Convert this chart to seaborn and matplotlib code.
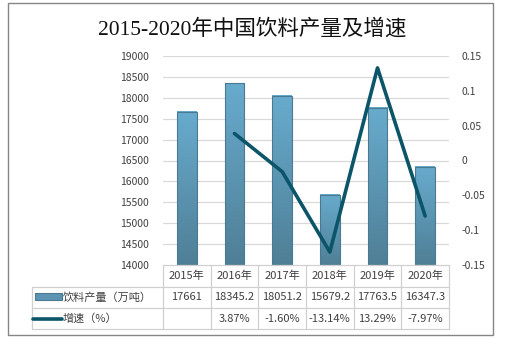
import numpy as np
import pandas as pd
import matplotlib
matplotlib.use("Agg")
import matplotlib.pyplot as plt
from matplotlib.colors import LinearSegmentedColormap
from matplotlib.patches import Rectangle
from matplotlib.lines import Line2D
import seaborn as sns

# Data
years = ["2015年", "2016年", "2017年", "2018年", "2019年", "2020年"]
output = [17661, 18345.2, 18051.2, 15679.2, 17763.5, 16347.3]
growth = [None, 0.0387, -0.0160, -0.1314, 0.1329, -0.0797]
output_labels = ["17661", "18345.2", "18051.2", "15679.2", "17763.5", "16347.3"]
growth_labels = ["", "3.87%", "-1.60%", "-13.14%", "13.29%", "-7.97%"]
left_ticks = list(range(14000, 19001, 500))
right_ticks = [-0.15, -0.1, -0.05, 0, 0.05, 0.1, 0.15]
right_tick_labels = ["-0.15", "-0.1", "-0.05", "0", "0.05", "0.1", "0.15"]
title = "2015-2020年中国饮料产量及增速"
bar_name = "饮料产量（万吨）"
line_name = "增速（%）"

sns.set_theme(style="white")
plt.rcParams["font.family"] = ["Noto Sans CJK SC", "DejaVu Sans"]

W, H = 511, 340
fig = plt.figure(figsize=(W / 100, H / 100), dpi=100)
fig.patch.set_facecolor("white")

def fx(px):
    return px / W

def fy(py):
    return 1 - py / H

# Plot area
x0, x1, y_top, y_bot = 163, 449, 56, 265
ax = fig.add_axes([fx(x0), fy(y_bot), fx(x1 - x0), fy(y_top) - fy(y_bot)])

bar_col = "#5b95b3"
edge_col = "#4a7a92"
line_col = "#0c5569"
text_col = "#404040"
grid_col = "#d9d9d9"

ymin, ymax = 14000, 19000
df = pd.DataFrame({"year": years, "output": output})
sns.barplot(data=df, x="year", y="output", ax=ax, color=bar_col, width=0.41,
            saturation=1, edgecolor=edge_col, linewidth=0.8, zorder=3)
ax.set_ylim(ymin, ymax)
ax.set_xlim(-0.5, len(years) - 0.5)
ax.set_yticks(left_ticks)
ax.set_yticklabels([str(t) for t in left_ticks], fontsize=7.5, color=text_col)
ax.set_xticks([])
ax.set_xlabel("")
ax.set_ylabel("")
ax.tick_params(axis="y", length=0, pad=10)
for s in ax.spines.values():
    s.set_visible(False)
for t in left_ticks[1:]:
    ax.axhline(t, color=grid_col, lw=0.9, zorder=1)

# Vertical gradient over the visible part of each bar
cmap = LinearSegmentedColormap.from_list("barg", ["#4f7f96", "#68abcd"])
grad = np.linspace(0, 1, 256).reshape(-1, 1)
for p in list(ax.patches):
    bx, bw = p.get_x(), p.get_width()
    top = p.get_y() + p.get_height()
    bottom = max(p.get_y(), ymin)
    p.set_visible(False)
    ax.imshow(grad, cmap=cmap, origin="lower", aspect="auto",
              extent=[bx, bx + bw, bottom, top], zorder=3.5)
    ax.add_patch(Rectangle((bx, bottom), bw, top - bottom, fill=False,
                           edgecolor=edge_col, lw=0.8, zorder=4))
ax.set_xlim(-0.5, len(years) - 0.5)
ax.set_ylim(ymin, ymax)

# Growth rate line on the secondary axis
ax2 = ax.twinx()
gdf = pd.DataFrame({"pos": np.arange(len(years)), "growth": growth}).dropna()
sns.lineplot(data=gdf, x="pos", y="growth", ax=ax2, color=line_col, lw=2.6,
             zorder=5)
ax2.set_ylim(-0.15, 0.15)
ax2.set_xlim(-0.5, len(years) - 0.5)
ax2.set_yticks(right_ticks)
ax2.set_yticklabels(right_tick_labels, fontsize=7.5, color=text_col)
ax2.tick_params(axis="y", length=0, pad=9)
ax2.set_xlabel("")
ax2.set_ylabel("")
for s in ax2.spines.values():
    s.set_visible(False)

# Data table below the plot
tbl_col = "#d0d0d0"
col_w = (x1 - x0) / len(years)
rows = [265, 287, 308, 329]
lab_left = 32

def hline(y, xa, xb):
    fig.add_artist(Line2D([fx(xa), fx(xb)], [fy(y), fy(y)], color=tbl_col, lw=0.9))

def vline(x, ya, yb):
    fig.add_artist(Line2D([fx(x), fx(x)], [fy(ya), fy(yb)], color=tbl_col, lw=0.9))

hline(rows[0], x0, x1)
for y in rows[1:]:
    hline(y, lab_left, x1)
vline(lab_left, rows[1], rows[3])
for i in range(len(years) + 1):
    vline(x0 + i * col_w, rows[0], rows[3])

for i, yr in enumerate(years):
    cx = x0 + (i + 0.5) * col_w
    fig.text(fx(cx), fy((rows[0] + rows[1]) / 2), yr, ha="center", va="center",
             fontsize=8, color=text_col)
    fig.text(fx(cx), fy((rows[1] + rows[2]) / 2), output_labels[i], ha="center",
             va="center", fontsize=8, color=text_col)
    fig.text(fx(cx), fy((rows[2] + rows[3]) / 2), growth_labels[i], ha="center",
             va="center", fontsize=8, color=text_col)

# Legend keys inside the table
fig.add_artist(Rectangle((fx(35), fy(300)), fx(27), fy(293) - fy(300),
                         transform=fig.transFigure, facecolor=bar_col,
                         edgecolor=edge_col, lw=0.8))
fig.add_artist(Line2D([fx(33), fx(62)], [fy(318.5), fy(318.5)], color=line_col,
                      lw=2.6))
fig.text(fx(63), fy((rows[1] + rows[2]) / 2), bar_name, ha="left", va="center",
         fontsize=8, color=text_col)
fig.text(fx(63), fy((rows[2] + rows[3]) / 2), line_name, ha="left", va="center",
         fontsize=8, color=text_col)

# Title
fig.text(fx(252), fy(29), title, ha="center", va="center", fontsize=15.5,
         color="#111111", fontweight="medium",
         family=["Liberation Serif", "Noto Sans CJK SC"])

# Outer frame
fig.add_artist(Rectangle((fx(8), fy(335)), fx(485), fy(3) - fy(335),
                         transform=fig.transFigure, fill=False,
                         edgecolor="#858585", lw=1.0))

fig.savefig("out.png", dpi=100, facecolor="white")
